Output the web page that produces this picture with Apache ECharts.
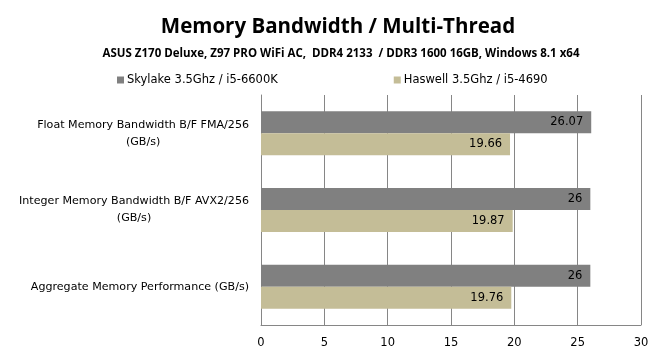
<!DOCTYPE html>
<html>
<head>
<meta charset="utf-8">
<script src="https://cdn.jsdelivr.net/npm/echarts@6/dist/echarts.min.js"></script>
<style>
  html, body { margin: 0; padding: 0; background: #fff; }
  #chart { width: 660px; height: 352px; }
</style>
</head>
<body>
<div id="chart"></div>
<script>
const categories = [
  'Float Memory Bandwidth B/F FMA/256\n(GB/s)',
  'Integer Memory Bandwidth B/F AVX2/256\n(GB/s)',
  'Aggregate Memory Performance (GB/s)'
];
const seriesNames = ['Skylake 3.5Ghz / i5-6600K', 'Haswell 3.5Ghz / i5-4690'];
const skylake = [26.07, 26, 26];
const haswell = [19.66, 19.87, 19.76];
const xTicks = [0, 5, 10, 15, 20, 25, 30];

const labelFont = 'DejaVu Sans';
const chart = echarts.init(document.getElementById('chart'));

const option = {
  animation: false,
  color: ['#808080', '#C4BD97'],
  title: [
    {
      text: 'Memory Bandwidth / Multi-Thread',
      left: 333,
      textAlign: 'center',
      top: 12,
      textStyle: { fontFamily: 'Open Sans', fontSize: 20.5, fontWeight: 'bold', color: '#000' }
    },
    {
      text: 'ASUS Z170 Deluxe, Z97 PRO WiFi AC,  DDR4 2133  / DDR3 1600 16GB, Windows 8.1 x64',
      left: 336,
      textAlign: 'center',
      top: 43,
      textStyle: { fontFamily: 'Open Sans', fontSize: 11.5, fontWeight: 'bold', color: '#000' }
    }
  ],
  legend: {
    data: seriesNames,
    top: 69,
    left: 112,
    itemWidth: 7,
    itemHeight: 7,
    itemGap: 116,
    icon: 'rect',
    textStyle: { fontFamily: labelFont, fontSize: 11.5, color: '#000', padding: [0, 0, 0, -2] }
  },
  grid: {
    left: 261,
    right: 19,
    top: 95,
    bottom: 27,
    containLabel: false
  },
  xAxis: {
    type: 'value',
    min: 0,
    max: 30,
    interval: 5,
    axisLine: { show: true, lineStyle: { color: '#868686' } },
    axisTick: { show: false },
    axisLabel: {
      margin: 12,
      fontFamily: labelFont,
      fontSize: 11.5,
      color: '#000',
      formatter: v => (xTicks.includes(v) ? String(v) : '')
    },
    splitLine: { show: true, lineStyle: { color: '#868686' } }
  },
  yAxis: {
    type: 'category',
    inverse: true,
    data: categories,
    axisLine: { show: true, lineStyle: { color: '#868686' } },
    axisTick: { show: false },
    axisLabel: {
      margin: 12,
      color: '#000',
      formatter: v => v.split('\n').map(s => '{c|' + s + '}').join('\n'),
      rich: {
        c: { fontFamily: labelFont, fontSize: 11.1, lineHeight: 17, align: 'center', color: '#000' }
      }
    }
  },
  series: [
    {
      name: seriesNames[0],
      type: 'bar',
      data: skylake,
      barWidth: 22,
      barGap: '0%',
      barCategoryGap: '42%',
      label: {
        show: true,
        position: 'insideRight',
        distance: 8,
        fontFamily: labelFont,
        fontSize: 11.5,
        color: '#000'
      }
    },
    {
      name: seriesNames[1],
      type: 'bar',
      data: haswell,
      barWidth: 22,
      barGap: '0%',
      label: {
        show: true,
        position: 'insideRight',
        distance: 8,
        fontFamily: labelFont,
        fontSize: 11.5,
        color: '#000'
      }
    }
  ]
};

chart.setOption(option);
</script>
</body>
</html>
